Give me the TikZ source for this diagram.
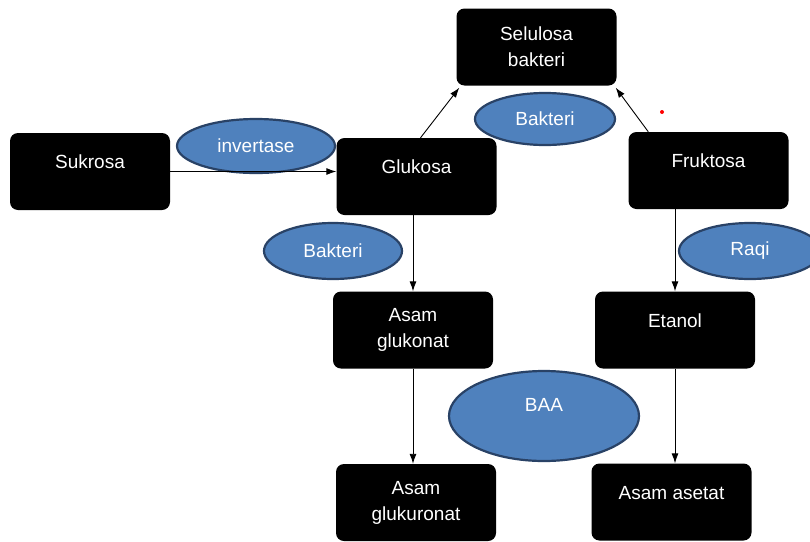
\documentclass[tikz,border=0pt]{standalone}
\usepackage{fontspec}
\setmainfont{Liberation Sans}
\usepackage{xcolor}
\usetikzlibrary{shapes.geometric, arrows, arrows.meta}

\definecolor{enzfill}{RGB}{79,129,189}
\definecolor{enzline}{RGB}{41,66,102}

\begin{document}
\begin{tikzpicture}[x=1pt, y=-1pt]
\tikzstyle{prodbox} = [rectangle, rounded corners=8pt, fill=black, text=white, minimum width=160pt, minimum height=77pt, inner sep=0pt, font=\fontsize{19}{26}\selectfont, align=center]
\tikzstyle{enzyme} = [ellipse, draw=enzline, line width=2.2pt, fill=enzfill, text=white, inner sep=0pt, font=\fontsize{19}{26}\selectfont, align=center]
\tikzstyle{flow} = [-{Latex[length=10pt, width=7pt]}, line width=0.9pt]

\useasboundingbox (0,0) rectangle (810,541);

% enzymes / agents
\node (invertase) [enzyme, minimum width=158pt, minimum height=54pt] at (256,146) {invertase};
\node (bakteriA) [enzyme, minimum width=140pt, minimum height=52pt] at (545,119) {Bakteri};
\node (bakteriB) [enzyme, minimum width=138pt, minimum height=56pt] at (333,251) {Bakteri};
\node (raqi) [enzyme, minimum width=142pt, minimum height=56pt] at (750,251) {Raqi};
\node (baa) [enzyme, minimum width=190pt, minimum height=90pt] at (544,416) {BAA\\[-4pt]\phantom{x}};

% products
\node (sukrosa) [prodbox] at (90,171.5) {Sukrosa\\[-7pt]\phantom{x}};
\node (glukosa) [prodbox] at (416.5,176.5) {Glukosa\\[-7pt]\phantom{x}};
\node (selulosa) [prodbox] at (536.5,47) {Selulosa\\bakteri};
\node (fruktosa) [prodbox] at (708.5,170.5) {Fruktosa\\[-7pt]\phantom{x}};
\node (glukonat) [prodbox] at (413,330) {Asam\\glukonat};
\node (etanol) [prodbox] at (675,330) {Etanol\\[-7pt]\phantom{x}};
\node (glukuronat) [prodbox] at (416,502.5) {Asam\\glukuronat};
\node (asetat) [prodbox] at (671.5,502) {Asam asetat\\[-7pt]\phantom{x}};

% reactions
\draw [flow] (sukrosa.east) -- (sukrosa.east -| glukosa.west);
\draw [flow] ([xshift=4pt]glukosa.north) -- ([xshift=3pt, yshift=-2pt]selulosa.south west);
\draw [flow] ([xshift=20pt]fruktosa.north west) -- ([xshift=-1pt, yshift=-2pt]selulosa.south east);
\draw [flow] (glukosa.south -| glukonat.north) -- (glukonat.north);
\draw [flow] (glukonat.south) -- (glukonat.south |- glukuronat.north);
\draw [flow] (fruktosa.south -| etanol.north) -- (etanol.north);
\draw [flow] (etanol.south) -- (etanol.south |- asetat.north);

\fill [red] (662,112) circle (2pt);
\end{tikzpicture}
\end{document}
